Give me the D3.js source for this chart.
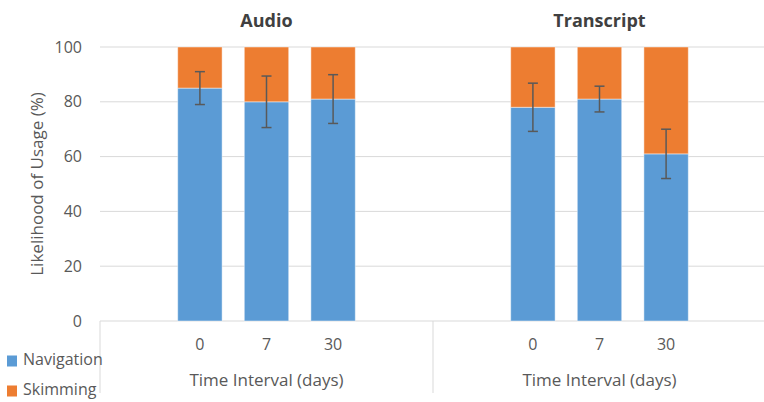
<!DOCTYPE html>
<html>
<head>
<meta charset="utf-8">
<script src="https://cdn.jsdelivr.net/npm/d3@7"></script>
<style>
  html, body { margin: 0; padding: 0; background: #fff; }
  svg { display: block; font-family: "Open Sans", sans-serif; }
</style>
</head>
<body>
<svg id="chart" width="764" height="402"></svg>
<script>
// Chart data
const groups = ["Audio", "Transcript"];
const intervals = ["0", "7", "30"];
const navigation = [[85, 80, 81], [78, 81, 61]];
const skimming = [[15, 20, 19], [22, 19, 39]];
const navError = [[6, 9.4, 8.9], [8.8, 4.7, 9]];
const yTicks = [0, 20, 40, 60, 80, 100];
const seriesNames = ["Navigation", "Skimming"];
const colors = ["#5b9bd5", "#ed7d31"];

const svg = d3.select("#chart");
const textColor = "#595959";

const plotLeft = 100, plotRight = 766;
const y = d3.scaleLinear().domain([0, 100]).range([321, 47]);
const xGroup = d3.scaleBand().domain(groups).range([plotLeft, plotRight]).padding(0);

// Gridlines
svg.append("g").selectAll("line").data(yTicks.filter(d => d > 0)).join("line")
  .attr("x1", plotLeft).attr("x2", 764)
  .attr("y1", d => y(d)).attr("y2", d => y(d))
  .attr("stroke", "#d9d9d9").attr("stroke-width", 1);

// Y axis labels
const yAxis = d3.axisLeft(y).tickValues(yTicks).tickSize(0).tickPadding(0);
const yg = svg.append("g").attr("transform", "translate(82,0)").call(yAxis);
yg.select(".domain").remove();
yg.selectAll("text").attr("fill", textColor).style("font-size", "16px")
  .style("font-family", "'Open Sans', sans-serif");

// Y axis title
svg.append("text")
  .attr("transform", `translate(38,${y(50)}) rotate(-90)`)
  .attr("text-anchor", "middle").attr("dominant-baseline", "middle")
  .attr("fill", textColor).style("font-size", "17px")
  .text("Likelihood of Usage (%)");

// Category axis base and separators
svg.append("line").attr("x1", plotLeft).attr("x2", 764)
  .attr("y1", y(0)).attr("y2", y(0)).attr("stroke", "#d9d9d9").attr("stroke-width", 1);
[plotLeft, xGroup("Transcript"), plotRight - 0.5].forEach(xv => {
  svg.append("line").attr("x1", xv).attr("x2", xv)
    .attr("y1", y(0)).attr("y2", 393).attr("stroke", "#d9d9d9").attr("stroke-width", 1);
});

groups.forEach((g, gi) => {
  const x0 = xGroup(g), w = xGroup.bandwidth();
  const x = d3.scaleBand().domain(intervals)
    .range([x0 + w / 5, x0 + 4 * w / 5])
    .paddingInner(1 / 3).paddingOuter(1 / 6);

  const gg = svg.append("g");

  // Stacked bars
  intervals.forEach((iv, i) => {
    const nav = navigation[gi][i], sk = skimming[gi][i];
    gg.append("rect")
      .attr("x", x(iv)).attr("width", x.bandwidth())
      .attr("y", y(nav)).attr("height", y(0) - y(nav))
      .attr("fill", colors[0]).attr("stroke", "rgba(255,255,255,0.45)").attr("stroke-width", 1);
    gg.append("rect")
      .attr("x", x(iv)).attr("width", x.bandwidth())
      .attr("y", y(nav + sk)).attr("height", y(nav) - y(nav + sk))
      .attr("fill", colors[1]).attr("stroke", "rgba(255,255,255,0.45)").attr("stroke-width", 1);

    // Error bar on the navigation value
    const cx = x(iv) + x.bandwidth() / 2;
    const e = navError[gi][i];
    const eg = gg.append("g").attr("stroke", "#595959").attr("stroke-width", 1.5);
    eg.append("line").attr("x1", cx).attr("x2", cx).attr("y1", y(nav + e)).attr("y2", y(nav - e));
    [nav + e, nav - e].forEach(v => {
      eg.append("line").attr("x1", cx - 5).attr("x2", cx + 5).attr("y1", y(v)).attr("y2", y(v));
    });

    // Tick label
    svg.append("text").attr("x", cx).attr("y", 346)
      .attr("text-anchor", "middle").attr("dominant-baseline", "middle")
      .attr("fill", textColor).style("font-size", "16px").text(iv);
  });

  // Group title
  svg.append("text").attr("x", x0 + w / 2).attr("y", 22)
    .attr("text-anchor", "middle").attr("dominant-baseline", "middle")
    .attr("fill", "#404040").style("font-size", "18px").style("font-weight", "bold").text(g);

  // Axis title
  svg.append("text").attr("x", x0 + w / 2).attr("y", 381)
    .attr("text-anchor", "middle").attr("dominant-baseline", "middle")
    .attr("fill", textColor).style("font-size", "17px").text("Time Interval (days)");
});

// Legend
const legend = svg.append("g");
seriesNames.forEach((s, i) => {
  const ly = 361 + i * 30;
  legend.append("rect").attr("x", 7).attr("y", ly - 5.5).attr("width", 10).attr("height", 11)
    .attr("fill", colors[i]);
  legend.append("text").attr("x", 23).attr("y", ly)
    .attr("dominant-baseline", "middle").attr("fill", textColor)
    .style("font-size", "16px").text(s);
});
</script>
</body>
</html>
